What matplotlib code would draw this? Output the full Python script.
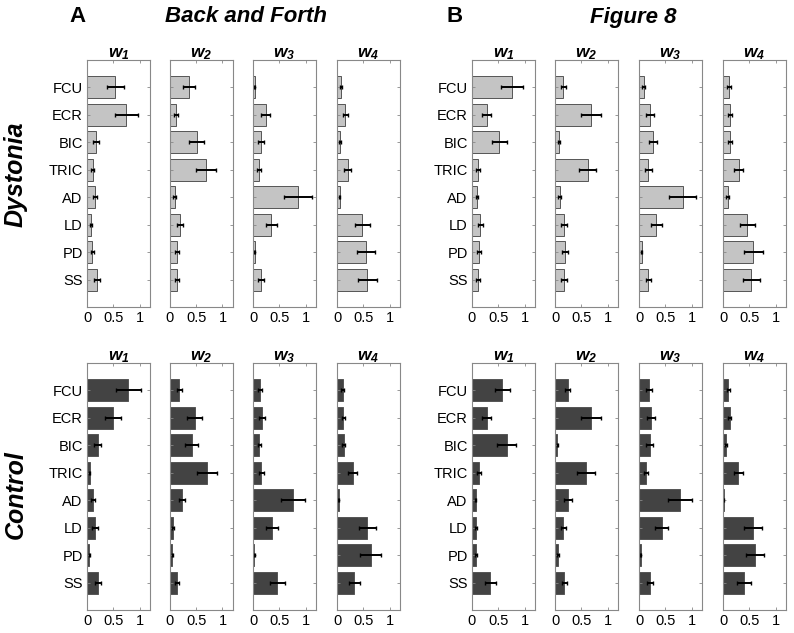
import matplotlib
matplotlib.use("Agg")
import matplotlib.pyplot as plt
import numpy as np

plt.rcParams['font.family'] = ['Liberation Sans', 'DejaVu Sans']
plt.rcParams['mathtext.fontset'] = 'custom'
plt.rcParams['mathtext.it'] = 'Liberation Sans:italic:bold'
plt.rcParams['mathtext.rm'] = 'Liberation Sans:italic:bold'

muscles = ['FCU', 'ECR', 'BIC', 'TRIC', 'AD', 'LD', 'PD', 'SS']
synergies = ['w1', 'w2', 'w3', 'w4']
tasks = ['Back and Forth', 'Figure 8']
task_letters = ['A', 'B']
groups = ['Dystonia', 'Control']

# mean weights, one list per synergy (muscle order as above)
dys_bf_mean = [[0.54, 0.75, 0.17, 0.11, 0.15, 0.07, 0.10, 0.19],
               [0.36, 0.12, 0.51, 0.69, 0.09, 0.19, 0.14, 0.14],
               [0.03, 0.24, 0.15, 0.12, 0.86, 0.35, 0.03, 0.15],
               [0.07, 0.16, 0.06, 0.20, 0.05, 0.48, 0.55, 0.58]]
dys_bf_err = [[0.16, 0.22, 0.05, 0.03, 0.04, 0.02, 0.03, 0.06],
              [0.12, 0.04, 0.14, 0.19, 0.03, 0.06, 0.04, 0.04],
              [0.01, 0.08, 0.05, 0.04, 0.27, 0.11, 0.01, 0.05],
              [0.02, 0.05, 0.02, 0.06, 0.01, 0.14, 0.17, 0.18]]

dys_f8_mean = [[0.76, 0.28, 0.52, 0.12, 0.09, 0.16, 0.14, 0.12],
               [0.16, 0.69, 0.07, 0.62, 0.09, 0.17, 0.19, 0.17],
               [0.09, 0.21, 0.27, 0.18, 0.83, 0.33, 0.05, 0.18],
               [0.12, 0.13, 0.14, 0.30, 0.09, 0.46, 0.58, 0.54]]
dys_f8_err = [[0.21, 0.08, 0.14, 0.04, 0.02, 0.05, 0.04, 0.04],
              [0.05, 0.19, 0.02, 0.17, 0.03, 0.05, 0.06, 0.05],
              [0.03, 0.07, 0.08, 0.06, 0.26, 0.10, 0.01, 0.05],
              [0.04, 0.04, 0.04, 0.09, 0.03, 0.14, 0.18, 0.16]]

con_bf_mean = [[0.79, 0.49, 0.20, 0.05, 0.11, 0.15, 0.04, 0.21],
               [0.18, 0.47, 0.41, 0.70, 0.23, 0.06, 0.04, 0.14],
               [0.13, 0.17, 0.12, 0.16, 0.76, 0.36, 0.02, 0.46],
               [0.11, 0.12, 0.13, 0.30, 0.03, 0.58, 0.64, 0.33]]
con_bf_err = [[0.24, 0.15, 0.06, 0.01, 0.04, 0.05, 0.01, 0.06],
              [0.05, 0.14, 0.13, 0.19, 0.06, 0.02, 0.01, 0.04],
              [0.04, 0.05, 0.03, 0.05, 0.23, 0.11, 0.01, 0.14],
              [0.03, 0.03, 0.03, 0.09, 0.01, 0.17, 0.20, 0.10]]

con_f8_mean = [[0.58, 0.28, 0.66, 0.14, 0.07, 0.08, 0.08, 0.35],
               [0.24, 0.69, 0.04, 0.59, 0.25, 0.16, 0.06, 0.18],
               [0.19, 0.23, 0.20, 0.13, 0.78, 0.43, 0.03, 0.21],
               [0.10, 0.13, 0.06, 0.29, 0.01, 0.57, 0.61, 0.40]]
con_f8_err = [[0.15, 0.08, 0.18, 0.04, 0.01, 0.02, 0.02, 0.11],
              [0.05, 0.19, 0.01, 0.17, 0.07, 0.05, 0.02, 0.05],
              [0.06, 0.07, 0.06, 0.04, 0.23, 0.13, 0.01, 0.06],
              [0.03, 0.03, 0.02, 0.09, 0.01, 0.17, 0.18, 0.13]]

data = {('Dystonia', 0): (dys_bf_mean, dys_bf_err),
        ('Dystonia', 1): (dys_f8_mean, dys_f8_err),
        ('Control', 0): (con_bf_mean, con_bf_err),
        ('Control', 1): (con_f8_mean, con_f8_err)}
bar_colors = {'Dystonia': '#c4c4c4', 'Control': '#434343'}

fig = plt.figure(figsize=(7.94, 6.33), dpi=100)
W, H = 794.0, 633.0

lefts = [[87, 170, 253, 337], [472, 555, 639, 723]]
row_top = {'Dystonia': 60, 'Control': 363}
ax_w, ax_h = 63, 247
y = np.arange(1, len(muscles) + 1)

for g in groups:
    for t in range(2):
        means, errs = data[(g, t)]
        for k in range(4):
            l = lefts[t][k]
            ax = fig.add_axes([l / W, 1 - (row_top[g] + ax_h) / H, ax_w / W, ax_h / H])
            ax.barh(y, means[k], height=0.8, color=bar_colors[g], edgecolor='#555555', linewidth=0.7)
            ax.errorbar(means[k], y, xerr=errs[k], fmt='none', ecolor='black',
                        elinewidth=1.4, capsize=1.5, capthick=1.0)
            ax.set_xlim(0, 1.2)
            ax.set_ylim(9, 0)
            ax.set_xticks([0, 0.5, 1])
            ax.set_xticklabels(['0', '0.5', '1'], fontsize=10.5)
            ax.set_yticks(y)
            if k == 0:
                ax.set_yticklabels(muscles, fontsize=10.5)
            else:
                ax.set_yticklabels([])
            ax.tick_params(direction='in', length=2.5, width=0.6, color='#888888',
                           top=True, right=True, pad=3)
            for s in ax.spines.values():
                s.set_color('#888888')
                s.set_linewidth(0.8)
            ax.set_title(r'$w_{%d}$' % (k + 1), fontsize=12.5, pad=2)

# panel headings
for t in range(2):
    fig.text([78 / W, 455 / W][t], 1 - 17 / H, task_letters[t], fontsize=16,
             fontweight='bold', ha='center', va='center')
    fig.text([246 / W, 633 / W][t], 1 - 17 / H, tasks[t], fontsize=16,
             fontweight='bold', style='italic', ha='center', va='center')

fig.text(16 / W, 1 - 174 / H, 'Dystonia', rotation=90, fontsize=18,
         fontweight='bold', style='italic', ha='center', va='center')
fig.text(16 / W, 1 - 495 / H, 'Control', rotation=90, fontsize=18,
         fontweight='bold', style='italic', ha='center', va='center')

plt.savefig('out.png', dpi=100)
plt.close()
